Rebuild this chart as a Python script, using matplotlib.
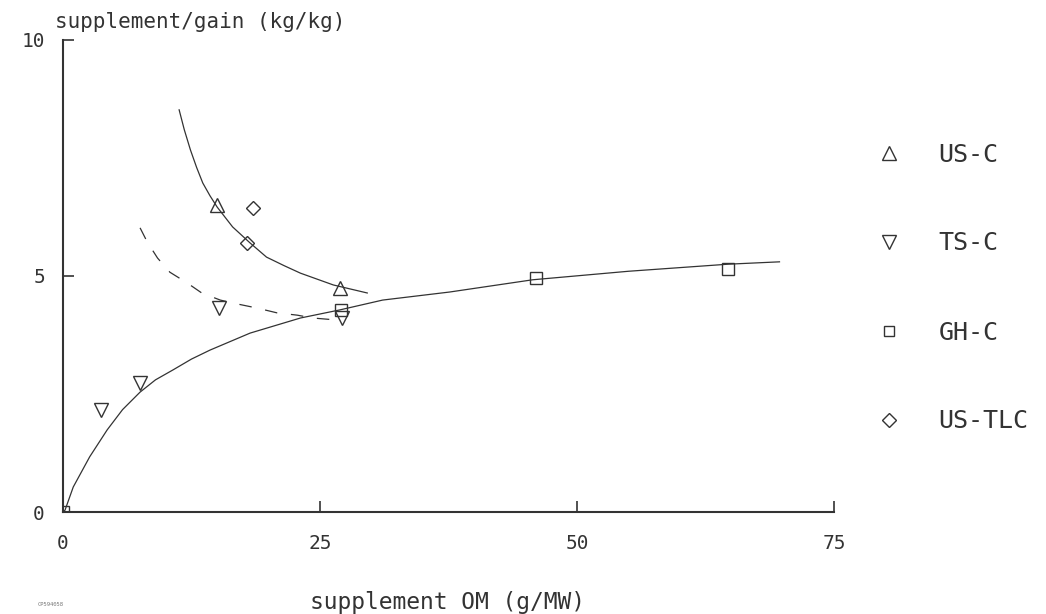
import matplotlib
matplotlib.use("Agg")
import matplotlib.pyplot as plt

# observed points, per treatment
us_c_x = [15.0, 26.9]
us_c_y = [6.50, 4.75]
ts_c_x = [3.7, 7.5, 15.2, 27.1]
ts_c_y = [2.16, 2.73, 4.32, 4.11]
gh_c_x = [0.0, 27.0, 46.0, 64.7]
gh_c_y = [0.0, 4.28, 4.96, 5.15]
us_tlc_x = [18.5, 17.9]
us_tlc_y = [6.44, 5.70]

# fitted curves
rise_x = [0.0, 0.2, 1.0, 2.6, 4.3, 5.8, 7.5, 9.0, 10.7, 12.5, 14.3, 18.2, 23.1, 26.9, 31.1, 37.6, 45.7, 55.0, 64.7, 69.7]
rise_y = [0.0, 0.04, 0.53, 1.17, 1.74, 2.17, 2.54, 2.80, 3.01, 3.24, 3.43, 3.79, 4.11, 4.28, 4.49, 4.66, 4.92, 5.10, 5.25, 5.30]
fall_x = [11.3, 11.8, 12.4, 13.0, 13.6, 14.3, 15.0, 16.5, 18.2, 19.8, 21.5, 23.1, 26.3, 29.6]
fall_y = [8.52, 8.10, 7.67, 7.30, 6.97, 6.70, 6.46, 6.04, 5.70, 5.40, 5.22, 5.06, 4.81, 4.64]
dash_x = [7.5, 8.2, 9.2, 10.4, 12.1, 13.5, 15.3, 16.9, 18.9, 20.8, 22.8, 24.3, 26.5]
dash_y = [6.02, 5.72, 5.38, 5.08, 4.85, 4.64, 4.49, 4.41, 4.32, 4.22, 4.17, 4.11, 4.07]

xticks = [0, 25, 50, 75]
yticks = [0, 5, 10]

ink = "#333333"
font = "DejaVu Sans Mono"

fig = plt.figure(figsize=(10.46, 6.14), dpi=100)
ax = fig.add_axes([0.0602, 0.1661, 0.7371, 0.7688])

ax.plot(rise_x, rise_y, color=ink, lw=0.9)
ax.plot(fall_x, fall_y, color=ink, lw=0.9)
ax.plot(dash_x, dash_y, color=ink, lw=0.9, ls=(0, (10, 11)))

mk = dict(ls="none", mfc="none", mec=ink, mew=1.0, ms=10.5)
ax.plot(us_c_x, us_c_y, marker="^", label="US-C", **mk)
ax.plot(ts_c_x, ts_c_y, marker="v", label="TS-C", **mk)
ax.plot(gh_c_x, gh_c_y, marker="s", label="GH-C", **dict(mk, ms=8.5))
ax.plot(us_tlc_x, us_tlc_y, marker="D", label="US-TLC", **dict(mk, ms=7.5))

ax.set_xlim(0, 75)
ax.set_ylim(0, 10)
ax.set_xticks(xticks)
ax.set_yticks(yticks)
ax.set_xticklabels([str(t) for t in xticks], family=font, fontsize=14, color=ink)
ax.set_yticklabels([str(t) for t in yticks], family=font, fontsize=14, color=ink)
ax.tick_params(axis="x", direction="in", length=8, width=1.2, color=ink, pad=16)
ax.tick_params(axis="y", direction="in", length=8, width=1.2, color=ink, pad=13)

for s in ["top", "right"]:
    ax.spines[s].set_visible(False)
for s in ["left", "bottom"]:
    ax.spines[s].set_linewidth(1.5)
    ax.spines[s].set_color(ink)
ax.patch.set_visible(False)

fig.text(55 / 1046, 1 - 22 / 614, "supplement/gain (kg/kg)", family=font,
         fontsize=15, color=ink, ha="left", va="center")
fig.text(447 / 1046, 1 - 603 / 614, "supplement OM (g/MW)", family=font,
         fontsize=16.5, color=ink, ha="center", va="center")
fig.text(38 / 1046, 1 - 604 / 614, "CP594058", family=font, fontsize=4,
         color="#777777", ha="left", va="center")

leg = fig.legend(loc="upper left", bbox_to_anchor=(841 / 1046, 1 - 120 / 614),
                 frameon=False, markerscale=0.9, handletextpad=1.0,
                 labelspacing=2.6, prop=dict(family=font, size=18))
for t in leg.get_texts():
    t.set_color(ink)

fig.savefig("out.png", dpi=100)
